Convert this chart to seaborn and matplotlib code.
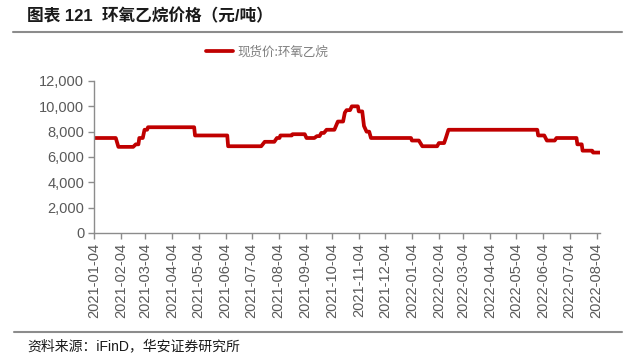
import matplotlib
matplotlib.use("Agg")
import matplotlib.pyplot as plt
from matplotlib.ticker import FuncFormatter
import seaborn as sns
import pandas as pd

# ---- data ----
dates = [
    "2021-01-04", "2021-01-29", "2021-02-01", "2021-02-18", "2021-02-21", "2021-02-24",
    "2021-02-25", "2021-03-01", "2021-03-03", "2021-03-06", "2021-03-07", "2021-04-29",
    "2021-04-30", "2021-06-06", "2021-06-07", "2021-07-15", "2021-07-19", "2021-07-30",
    "2021-08-02", "2021-08-05", "2021-08-06", "2021-08-19", "2021-08-20", "2021-09-03",
    "2021-09-05", "2021-09-14", "2021-09-17", "2021-09-20", "2021-09-22", "2021-09-25",
    "2021-09-28", "2021-10-07", "2021-10-11", "2021-10-17", "2021-10-19", "2021-10-21",
    "2021-10-25", "2021-10-27", "2021-11-03", "2021-11-04", "2021-11-08", "2021-11-10",
    "2021-11-13", "2021-11-16", "2021-11-18", "2022-01-03", "2022-01-04", "2022-01-12",
    "2022-01-16", "2022-02-02", "2022-02-04", "2022-02-10", "2022-02-12", "2022-02-15",
    "2022-05-28", "2022-05-29", "2022-06-05", "2022-06-08", "2022-06-17", "2022-06-19",
    "2022-07-12", "2022-07-13", "2022-07-18", "2022-07-19", "2022-07-30", "2022-07-31",
    "2022-08-08",
]
prices = [
    7500, 7500, 6800, 6800, 7000, 7000,
    7500, 7500, 8150, 8150, 8350, 8350,
    7700, 7700, 6850, 6850, 7200, 7200,
    7500, 7500, 7700, 7700, 7800, 7800,
    7500, 7500, 7650, 7650, 7900, 7900,
    8150, 8150, 8800, 8800, 9500, 9700,
    9700, 10000, 10000, 9600, 9600, 8450,
    8000, 8000, 7500, 7500, 7300, 7300,
    6850, 6850, 7100, 7100, 7500, 8150,
    8150, 7700, 7700, 7300, 7300, 7500,
    7500, 7000, 7000, 6500, 6500, 6350,
    6350,
]
x_ticks = [
    "2021-01-04", "2021-02-04", "2021-03-04", "2021-04-04", "2021-05-04",
    "2021-06-04", "2021-07-04", "2021-08-04", "2021-09-04", "2021-10-04",
    "2021-11-04", "2021-12-04", "2022-01-04", "2022-02-04", "2022-03-04",
    "2022-04-04", "2022-05-04", "2022-06-04", "2022-07-04", "2022-08-04",
]
y_ticks = [0, 2000, 4000, 6000, 8000, 10000, 12000]
series_name = "现货价:环氧乙烷"
title_text = "图表 121  环氧乙烷价格（元/吨）"
source_text = "资料来源：iFinD，华安证券研究所"

sns.set_theme(style="white")
plt.rcParams["font.family"] = ["Liberation Sans", "Noto Sans CJK SC", "DejaVu Sans"]
plt.rcParams["axes.unicode_minus"] = False

df = pd.DataFrame({"date": pd.to_datetime(dates), "price": prices})

fig = plt.figure(figsize=(6.3, 3.62), dpi=100)
ax = fig.add_axes([94 / 630, 1 - 233 / 362, (600 - 94) / 630, (233 - 81) / 362])

sns.lineplot(data=df, x="date", y="price", ax=ax, color="#C00000",
             linewidth=2.7, label=series_name, legend=False)

ax.set_xlim(pd.Timestamp("2021-01-04"), pd.Timestamp("2022-08-08"))
ax.set_ylim(0, 12000)
ax.set_xticks(pd.to_datetime(x_ticks))
ax.set_xticklabels(x_ticks, rotation=90)
ax.set_yticks(y_ticks)
ax.yaxis.set_major_formatter(FuncFormatter(lambda v, p: f"{int(v):,}"))
ax.set_xlabel("")
ax.set_ylabel("")

for s in ["top", "right"]:
    ax.spines[s].set_visible(False)
for s in ["left", "bottom"]:
    ax.spines[s].set_color("#8c8c8c")
    ax.spines[s].set_linewidth(1.0)
ax.tick_params(axis="both", which="major", direction="out", length=4, width=1,
               color="#8c8c8c", labelcolor="#595959", labelsize=10.5, pad=3,
               bottom=True, left=True)
ax.grid(False)

# legend
h, l = ax.get_legend_handles_labels()
leg = fig.legend(h, l, loc="center", bbox_to_anchor=(267 / 630, 1 - 52 / 362),
                 frameon=False, handlelength=2.2, handletextpad=0.3,
                 prop={"family": ["Noto Sans CJK SC"], "size": 9})
for t in leg.get_texts():
    t.set_color("#7f7f7f")

# title and rules
fig.text(27 / 630, 1 - 16 / 362, title_text, ha="left", va="center",
         fontsize=12, fontweight="bold", color="#1a1a1a",
         family=["Liberation Sans", "Noto Sans CJK SC"])
fig.add_artist(plt.Line2D([13 / 630, 622 / 630], [1 - 32 / 362, 1 - 32 / 362],
                          color="#8c8c8c", linewidth=1.5))
fig.add_artist(plt.Line2D([14 / 630, 622 / 630], [1 - 332 / 362, 1 - 332 / 362],
                          color="#8c8c8c", linewidth=1.5))
fig.text(27 / 630, 1 - 346 / 362, source_text, ha="left", va="center",
         fontsize=10, color="#1a1a1a",
         family=["Liberation Sans", "Noto Sans CJK SC"])

fig.savefig("out.png", dpi=100)
